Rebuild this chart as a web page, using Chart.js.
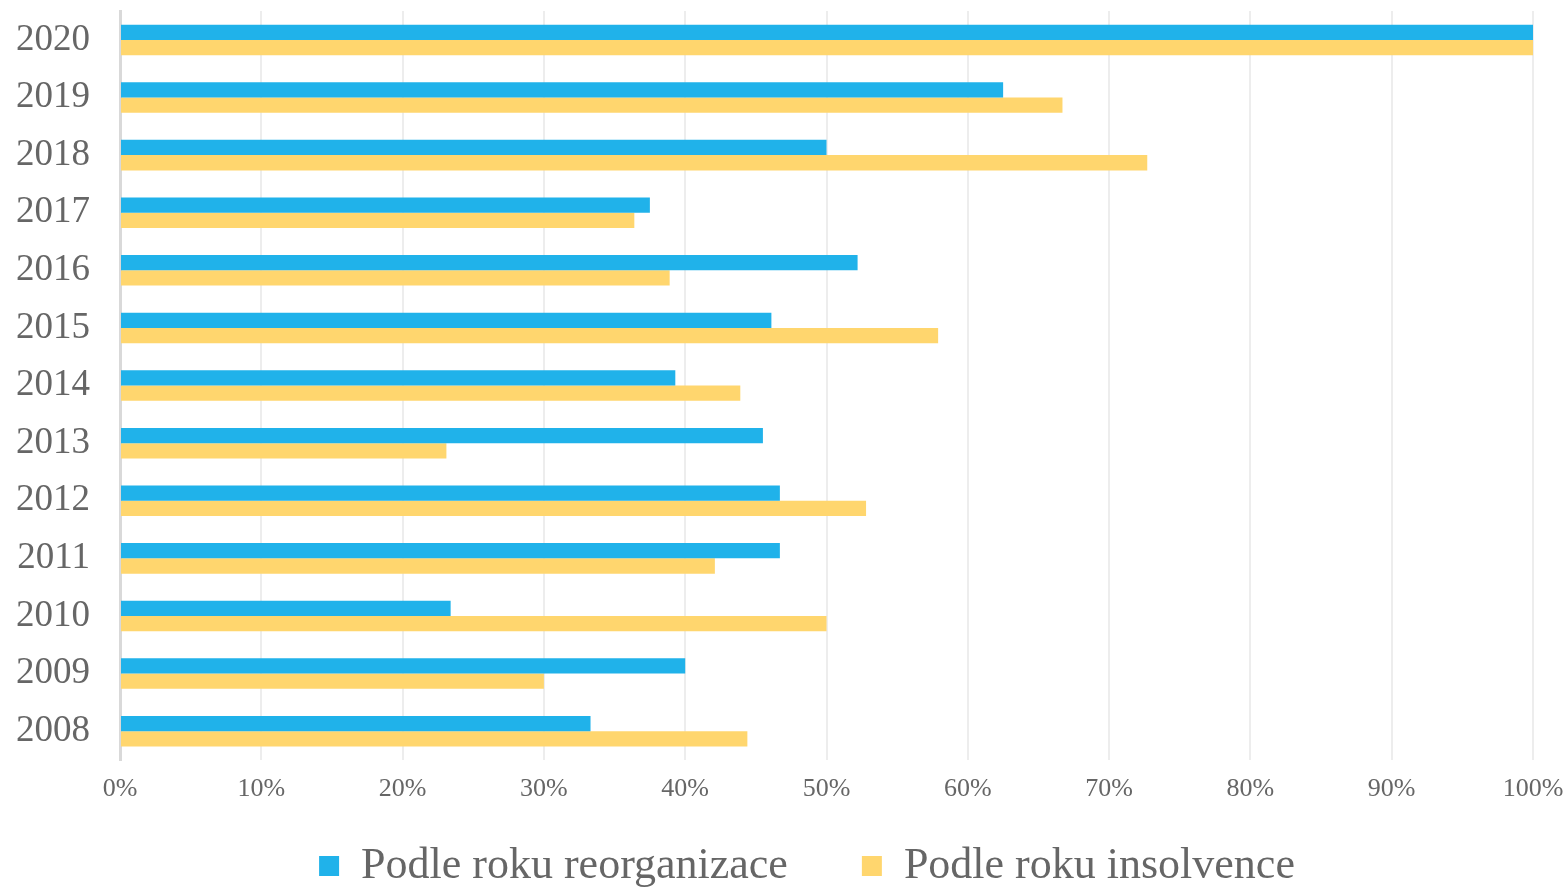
<!DOCTYPE html>
<html>
<head>
<meta charset="utf-8">
<script src="https://cdn.jsdelivr.net/npm/chart.js@4"></script>
<style>
  html, body { margin: 0; padding: 0; background: #fff; }
  #wrap { width: 1568px; height: 888px; }
</style>
</head>
<body>
<div id="wrap"><canvas id="c" width="1568" height="888"></canvas></div>
<script>
// years, top to bottom as in the picture
const years = ['2020', '2019', '2018', '2017', '2016', '2015', '2014',
  '2013', '2012', '2011', '2010', '2009', '2008'];
// share in %
const reorganizace = [100, 62.5, 50.0, 37.5, 52.2, 46.1, 39.3, 45.5, 46.7, 46.7, 23.4, 40.0, 33.3];
const insolvence = [100, 66.7, 72.7, 36.4, 38.9, 57.9, 43.9, 23.1, 52.8, 42.1, 50.0, 30.0, 44.4];
const seriesNames = ['Podle roku reorganizace', 'Podle roku insolvence'];

const BLUE = '#20B2EA';
const YELLOW = '#FFD66E';
const TEXT = '#666666';
const FONT = "'Liberation Serif', 'DejaVu Serif', serif";

// legend sits a bit right of centre and runs into the bottom edge in the original
const legendShift = {
  id: 'legendShift',
  afterLayout(chart) {
    const l = chart.legend;
    l.left += 81;
    l.top -= 40;
    l.bottom = chart.height + 20;
  },
};

new Chart(document.getElementById('c'), {
  type: 'bar',
  data: {
    labels: years,
    datasets: [
      { label: seriesNames[0], data: reorganizace, backgroundColor: BLUE, borderWidth: 0 },
      { label: seriesNames[1], data: insolvence, backgroundColor: YELLOW, borderWidth: 0 },
    ],
  },
  options: {
    indexAxis: 'y',
    responsive: false,
    animation: false,
    layout: { padding: { left: 0, right: 35, top: 11, bottom: 0 } },
    datasets: { bar: { categoryPercentage: 0.53, barPercentage: 1.0 } },
    scales: {
      x: {
        min: 0, max: 100,
        border: { display: false },
        grid: { color: '#ededed', lineWidth: 2, drawTicks: true, tickLength: 14, tickColor: 'rgba(0,0,0,0)' },
        ticks: {
          stepSize: 10, padding: 0, color: TEXT,
          font: { family: FONT, size: 26 },
          callback: v => v + '%',
        },
        afterFit: s => { s.height = 50; },
      },
      y: {
        border: { display: true, color: '#d9d9d9', width: 3 },
        grid: { display: false, drawTicks: true, tickLength: 30 },
        ticks: { padding: 0, color: TEXT, font: { family: FONT, size: 37, lineHeight: 0.6 } },
        afterFit: s => { s.width = 120; },
      },
    },
    plugins: {
      tooltip: { enabled: false },
      legend: {
        position: 'bottom',
        maxHeight: 78,
        labels: {
          boxWidth: 20, boxHeight: 20, padding: 74, color: TEXT,
          font: { family: FONT, size: 44 },
        },
      },
    },
  },
  plugins: [legendShift],
});
</script>
</body>
</html>
